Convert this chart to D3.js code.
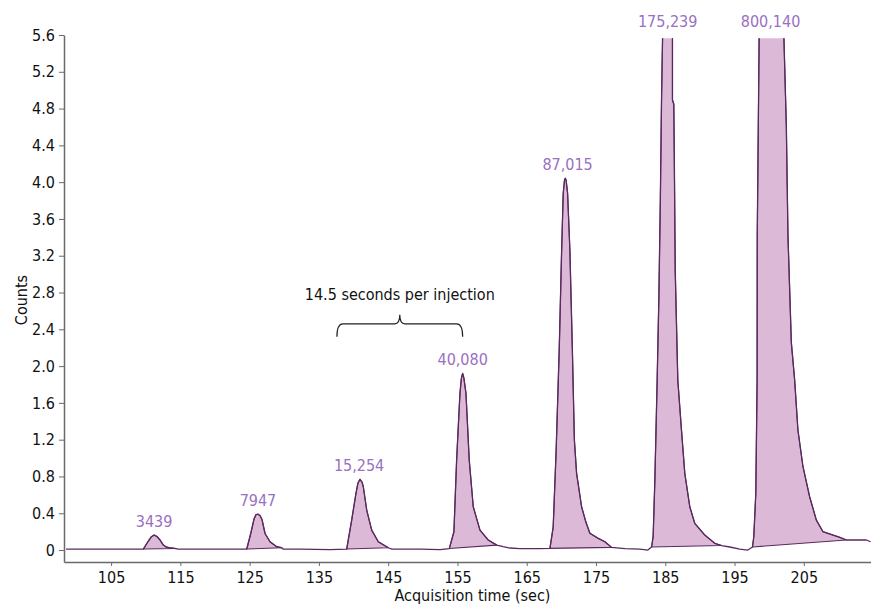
<!DOCTYPE html>
<html>
<head>
<meta charset="utf-8">
<script src="https://cdn.jsdelivr.net/npm/d3@7"></script>
<style>
  body { margin: 0; background: #fff; }
  text { font-family: "Liberation Sans Narrow", "DejaVu Sans Condensed", sans-serif; }
</style>
</head>
<body>
<svg id="chart" width="871" height="605"></svg>
<script>
// chromatogram trace: [time (sec), counts]
const trace = [
  [98.5, 0.011], [103.4, 0.011], [107.7, 0.011],
  [109.66, 0.011], [110.38, 0.098], [110.77, 0.141], [111.21, 0.163], [111.63, 0.147],
  [112.07, 0.109], [112.55, 0.054], [112.94, 0.033], [113.41, 0.025], [114.37, 0.016], [114.65, 0.011],
  [117.8, 0.011], [122.2, 0.011],
  [124.58, 0.011], [125.16, 0.18], [125.64, 0.34], [125.93, 0.386], [126.21, 0.39], [126.5, 0.375],
  [126.79, 0.33], [127.22, 0.18], [127.94, 0.09], [128.91, 0.036], [129.63, 0.025], [129.82, 0.011],
  [132.3, 0.011], [136.6, 0.005],
  [139.01, 0.011], [139.73, 0.326], [140.35, 0.617], [140.64, 0.729], [140.93, 0.769], [141.22, 0.739],
  [141.41, 0.688], [141.9, 0.435], [142.62, 0.217], [143.57, 0.09], [144.78, 0.036], [145.01, 0.025], [145.55, 0.011],
  [149.6, 0.011], [152.5, 0.005],
  [153.82, 0.016], [154.49, 0.199], [154.88, 0.979], [155.36, 1.704], [155.57, 1.87], [155.75, 1.92],
  [155.93, 1.87], [156.23, 1.704], [156.7, 0.979], [157.28, 0.471], [158.25, 0.217], [159.44, 0.109],
  [160.66, 0.054], [161.61, 0.036], [162.57, 0.022], [164.0, 0.016], [166.9, 0.016],
  [168.35, 0.018], [168.82, 0.25], [169.25, 1.087], [169.69, 2.175], [170.04, 3.262], [170.27, 3.879],
  [170.45, 4.02], [170.56, 4.042], [170.69, 4.02], [170.9, 3.879], [171.23, 3.262], [171.59, 2.175],
  [171.88, 1.196], [172.2, 0.834], [172.92, 0.471], [173.54, 0.304], [174.12, 0.182], [175.32, 0.127],
  [176.28, 0.09], [177.25, 0.029], [179.17, 0.016], [181.33, 0.011], [182.49, 0.0],
  [183.02, 0.033], [183.25, 0.145], [183.5, 0.761], [183.83, 1.849], [184.07, 2.719], [184.29, 3.806],
  [184.46, 4.893], [184.61, 5.568], [185.29, 8.1], [186.04, 5.568], [186.04, 4.893], [186.23, 4.85],
  [186.3, 4.317], [186.44, 3.034], [186.81, 1.849], [187.34, 1.305], [187.82, 0.834], [188.54, 0.471],
  [189.26, 0.29], [190.71, 0.163], [192.15, 0.073], [193.12, 0.049], [194.32, 0.033], [195.76, 0.011], [196.92, 0.0],
  [197.59, 0.033], [197.78, 0.145], [198.07, 0.617], [198.26, 1.849], [198.28, 3.425], [198.43, 4.6],
  [198.55, 5.568], [200.36, 37], [202.13, 5.568], [202.48, 4.6], [202.71, 3.425], [203.2, 2.255],
  [203.68, 1.849], [204.15, 1.305], [204.88, 0.906], [205.84, 0.58], [206.81, 0.326], [207.77, 0.199],
  [209.21, 0.163], [210.18, 0.138], [211.14, 0.109], [212.1, 0.109], [214.03, 0.109], [214.65, 0.09]
];

// integrated peaks
const peakLabels = ["3439", "7947", "15,254", "40,080", "87,015", "175,239", "800,140"];
const peakApex   = [111.2, 126.2, 140.8, 155.75, 170.9, 185.35, 200.2];
const peakHeight = [0.163, 0.39, 0.769, 1.92, 4.042, 8.1, 37];
const peakStart  = [109.66, 124.58, 139.01, 153.82, 168.35, 183.02, 197.59];
const peakEnd    = [114.37, 129.63, 145.01, 160.66, 177.25, 193.12, 211.14];

const xTicks = [105, 115, 125, 135, 145, 155, 165, 175, 185, 195, 205];
const yTicks = [0, 0.4, 0.8, 1.2, 1.6, 2.0, 2.4, 2.8, 3.2, 3.6, 4.0, 4.4, 4.8, 5.2, 5.6];

const braceSpan = [137.6, 155.75];
const braceLevel = 2.46;
const braceText = "14.5 seconds per injection";

const svg = d3.select("#chart"),
      margin = { top: 35, right: 0, bottom: 43, left: 64 },
      width = +svg.attr("width") - margin.left - margin.right,
      height = +svg.attr("height") - margin.top - margin.bottom;

const g = svg.append("g")
    .attr("transform", `translate(${margin.left},${margin.top})`);

const x = d3.scaleLinear().domain([98.2, 214.7]).range([0, width]);
const y = d3.scaleLinear().domain([-0.13, 5.6]).range([height, 0]);

const purple = "#5a2a5e",
      fill = "#dcb9d6",
      labelColor = "#9a70bf",
      axisColor = "#6a6a6a";

// clip peaks at the top of the plot
svg.append("defs").append("clipPath")
    .attr("id", "plotClip")
    .append("rect")
    .attr("x", 0)
    .attr("y", y(5.565))
    .attr("width", width)
    .attr("height", height - y(5.565));

const plot = g.append("g").attr("clip-path", "url(#plotClip)");

const line = d3.line().x(d => x(d[0])).y(d => y(d[1]));

// filled peaks, closed by the straight integration baseline
peakStart.forEach((s, i) => {
    const pts = trace.filter(d => d[0] >= s && d[0] <= peakEnd[i]);
    plot.append("path")
        .attr("d", line(pts) + "Z")
        .attr("fill", fill)
        .attr("stroke", purple)
        .attr("stroke-width", 1.1)
        .attr("stroke-linejoin", "round");
});

// full trace
plot.append("path")
    .attr("d", line(trace))
    .attr("fill", "none")
    .attr("stroke", purple)
    .attr("stroke-width", 1.3)
    .attr("stroke-linejoin", "round");

// X Axis
const xAxis = g.append("g")
    .attr("transform", `translate(0,${height})`)
    .call(d3.axisBottom(x).tickValues(xTicks).tickSize(4).tickSizeOuter(0).tickPadding(6));
xAxis.select(".domain").attr("stroke", axisColor).attr("stroke-width", 1.5);
xAxis.selectAll(".tick line").attr("stroke", axisColor);
xAxis.selectAll("text").style("font-size", "16px").attr("fill", "#111");

// Y Axis
const yAxis = g.append("g")
    .call(d3.axisLeft(y).tickValues(yTicks).tickSize(5).tickSizeOuter(0).tickPadding(4)
        .tickFormat(d => d === 0 ? "0" : d.toFixed(1)));
yAxis.select(".domain").attr("stroke", axisColor).attr("stroke-width", 1.5);
yAxis.selectAll(".tick line").attr("stroke", axisColor);
yAxis.selectAll("text").style("font-size", "16px").attr("fill", "#111");

// Axis labels
g.append("text")
    .attr("x", width / 2 + 5)
    .attr("y", height + 39)
    .attr("text-anchor", "middle")
    .attr("font-size", "16px")
    .attr("fill", "#111")
    .text("Acquisition time (sec)");

g.append("text")
    .attr("transform", "rotate(-90)")
    .attr("x", -265)
    .attr("y", -37)
    .attr("text-anchor", "middle")
    .attr("font-size", "16px")
    .attr("fill", "#111")
    .text("Counts");

// Peak labels
g.selectAll(".peak-label")
    .data(peakLabels)
    .enter()
    .append("text")
    .attr("class", "peak-label")
    .attr("x", (d, i) => x(peakApex[i]))
    .attr("y", (d, i) => y(Math.min(peakHeight[i], 5.6)) - 8)
    .attr("text-anchor", "middle")
    .attr("font-size", "16px")
    .attr("fill", labelColor)
    .text(d => d);

// Brace annotation
const bx0 = x(braceSpan[0]), bx1 = x(braceSpan[1]), bm = (bx0 + bx1) / 2,
      by = y(braceLevel);
g.append("path")
    .attr("d", `M${bx0},${by + 13} Q${bx0},${by} ${bx0 + 6},${by} L${bm - 5},${by}
                Q${bm},${by} ${bm},${by - 9} Q${bm},${by} ${bm + 5},${by}
                L${bx1 - 6},${by} Q${bx1},${by} ${bx1},${by + 13}`)
    .attr("fill", "none")
    .attr("stroke", "#222")
    .attr("stroke-width", 1.2);

g.append("text")
    .attr("x", bm)
    .attr("y", by - 24)
    .attr("text-anchor", "middle")
    .attr("font-size", "16px")
    .attr("fill", "#111")
    .text(braceText);
</script>
</body>
</html>
